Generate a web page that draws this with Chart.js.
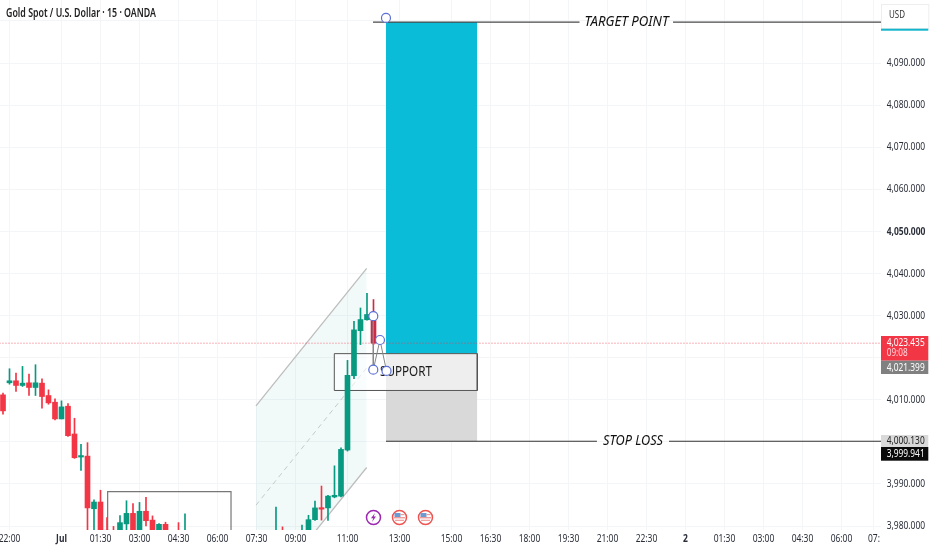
<!DOCTYPE html>
<html><head><meta charset="utf-8">
<style>html,body{margin:0;padding:0;background:#fff}canvas{display:block}</style>
<script src="https://cdn.jsdelivr.net/npm/chart.js@4"></script>
</head><body><canvas id="c" width="932" height="550"></canvas>
<script>
// candle data (x = number of 15-minute candles after 22:00)
const candleIdx = [-1,0,1,2,3,4,5,6,7,8,9,10,11,12,13,14,15,16,17,18,19,20,21,22,23,24,26,27,41,42,45,46,47,48,49,50,51,52,53,54,55,56];
const opens  = [4011.16,4014.02,4014.50,4013.39,4014.02,4012.91,4013.94,4011.0,4009.41,4005.44,4008.46,4001.86,3996.38,3996.6,3984.1,3985.7,3979,3978.5,3978,3980.5,3983.0,3977,3983.5,3981.4,3977,3980.4,3978.5,3977,3976,3978,3977,3977,3981.5,3984.2,3984.3,3986.9,3987.1,3998.05,4015.7,4026.4,4029.0,4029.85];
const closes = [4007.35,4014.50,4013.39,4013.94,4012.91,4014.02,4010.76,4009.25,4005.44,4008.3,4001.46,3996.22,3996.6,3984.3,3985.7,3972,3975,3976,3980.8,3983.0,3976,3983.5,3981.27,3977,3980.4,3976,3977,3978.5,3978,3976,3978,3981.5,3984.3,3984.0,3987.1,3987.3,3998.2,4015.8,4026.6,4029.05,4030.25,4023.435];
const highs  = [4011.56,4017.36,4016.33,4017.92,4016.09,4018.32,4014.98,4012.35,4010.21,4009.73,4009.09,4005.6,3999.4,3999.8,3986.2,3988.5,3982,3979.9,3982.5,3986.0,3985.3,3985.6,3986.8,3982.4,3980.6,3980.9,3980.8,3982.9,3984.5,3979.8,3980.2,3982.55,3985.9,3989.5,3987.3,3994.3,3998.6,4019.35,4028.65,4031.8,4035.25,4033.8];
const lows   = [4006.55,4013.70,4011.96,4013.15,4011.0,4011.0,4008.0,4008.93,4005.2,4005.44,4001.3,3996.06,3993.2,3975,3975,3968,3974,3974,3976,3978,3974,3975,3980.0,3976,3976,3975,3976,3976,3975,3975,3976,3976,3981.35,3981.4,3981.35,3986.7,3986.9,3997.8,4015,4023.1,4028.9,4023.1];

// axes
const timeTickIdx = [0,8,14,20,26,32,38,44,52,60,68,74,80,86,92,98,104,110,116,122,128,133];
const timeLabels  = ["22:00","Jul","01:30","03:00","04:30","06:00","07:30","09:00","11:00","13:00","15:00","16:30","18:00","19:30","21:00","22:30","2","01:30","03:00","04:30","06:00","07:"];
const priceTicks  = [3980,3990,4000,4010,4020,4030,4040,4050,4060,4070,4080,4090,4100];
const hiddenPriceLabels = [4000,4020,4100];

// drawing levels
const lastPrice = 4023.435, entryPrice = 4020.95, targetPrice = 4099.72, stopPrice = 4000.13, supportLow = 4012.2;
const zoneLeft = 57.92, zoneRight = 71.97, supportLeft = 49.97;
const channelX = [37.92,54.95], channelUpper = [4008.55,4041.22], channelMid = [3984.94,4017.56], channelLower = [3961.23,3993.9];
const boxX = [15.1,34.08], boxTop = 3988.18, boxBase = 3970;
const patternX = [55.97,55.97,57.0,58.0], patternY = [4029.84,4017.13,4024.19,4016.85];
const targetLineX = [55.92,87.7,102.08,134.08], stopLineX = [57.92,90.38,101.46,134.08];
const eventIdx = [56,60,64];

// texts
const titleText = "Gold Spot / U.S. Dollar · 15 · OANDA";
const targetText = "TARGET POINT", stopText = "STOP LOSS", supportText = "SUPPORT";
const tagLast = "4,023.435", tagTimer = "09:08", tagEntry = "4,021.399", tagStop = "4,000.130", tagCross = "3,999.941", currency = "USD";

const RED="#F23645", GREEN="#089981", BLUE="#5B6FD6";
const SANS="'Noto Sans',sans-serif";
const xy=(xs,ys)=>xs.map((x,i)=>({x,y:ys[i]}));
const flat=(a,b,y)=>[{x:a,y},{x:b,y}];
const candleColor=candleIdx.map((_,i)=>i===candleIdx.length-1?"#CF2A45":(closes[i]>=opens[i]?GREEN:RED));
const base={type:'line',pointRadius:0,borderWidth:0,tension:0,fill:false};
const rectFill=(l,r,top,bot,color,order,label)=>({...base,label,order,data:flat(l,r,top),backgroundColor:color,borderColor:color,fill:{target:{value:bot},above:color,below:color}});

const datasets=[
 {...base,label:'channelFill',order:100,data:xy(channelX,channelUpper),backgroundColor:'rgba(8,153,129,0.05)',fill:{target:'+1',above:'rgba(8,153,129,0.05)',below:'rgba(8,153,129,0.05)'},borderWidth:1.3,borderColor:'#BDBDBD'},
 {...base,label:'channelLower',order:99,data:xy(channelX,channelLower),borderWidth:1.3,borderColor:'#BDBDBD'},
 {...base,label:'channelMid',order:98,data:xy(channelX,channelMid),borderWidth:1,borderColor:'#C4C9C6',borderDash:[5,4]},
 {...base,label:'box',order:97,data:[{x:boxX[0],y:boxBase},{x:boxX[0],y:boxTop},{x:boxX[1],y:boxTop},{x:boxX[1],y:boxBase}],borderWidth:1.2,borderColor:'#777'},
 rectFill(zoneLeft,zoneRight,targetPrice,entryPrice,'#0BBCD8',90,'targetZone'),
 rectFill(zoneLeft,zoneRight,entryPrice,stopPrice,'#D9D9D9',89,'stopZone'),
 rectFill(supportLeft,zoneRight,entryPrice,supportLow,'rgba(255,255,255,0.55)',88,'supportFill'),
 {...base,label:'supportEdge',order:87,data:[{x:supportLeft,y:entryPrice},{x:zoneRight,y:entryPrice},{x:zoneRight,y:supportLow},{x:supportLeft,y:supportLow},{x:supportLeft,y:entryPrice}],borderWidth:1,borderColor:'#555'},
 {...base,label:'lastLine',order:86,data:flat(-2,135,lastPrice),borderWidth:1,borderColor:'rgba(242,54,69,0.75)',borderDash:[1,2]},
 {type:'bar',label:'wicks',order:60,grouped:false,barThickness:1,data:candleIdx.map((x,i)=>({x,y:[lows[i],highs[i]]})),backgroundColor:candleColor},
 {type:'bar',label:'bodies',order:59,grouped:false,barThickness:5,minBarLength:1.5,data:candleIdx.map((x,i)=>({x,y:[opens[i],closes[i]]})),backgroundColor:candleColor},
 {...base,label:'targetLine',order:50,data:[{x:targetLineX[0],y:targetPrice},{x:targetLineX[1],y:targetPrice},{x:targetLineX[1],y:null},{x:targetLineX[2],y:targetPrice},{x:targetLineX[3],y:targetPrice}],borderWidth:1.2,borderColor:'#4A4A4A'},
 {...base,label:'stopLine',order:49,data:[{x:stopLineX[0],y:stopPrice},{x:stopLineX[1],y:stopPrice},{x:stopLineX[1],y:null},{x:stopLineX[2],y:stopPrice},{x:stopLineX[3],y:stopPrice}],borderWidth:1.2,borderColor:'#333'},
 {...base,label:'pattern',order:40,data:xy(patternX,patternY),borderWidth:1,borderColor:'#888',pointRadius:4.5,pointBackgroundColor:'#fff',pointBorderColor:BLUE,pointBorderWidth:1.2},
 {...base,label:'targetHandle',order:39,data:[{x:zoneLeft,y:4100.7}],pointRadius:4.5,pointBackgroundColor:'rgba(255,255,255,0.9)',pointBorderColor:BLUE,pointBorderWidth:1.2,clip:false}
];

function label(ctx,t,x,y,font,color,maxW){ctx.font=font;ctx.fillStyle=color;ctx.textAlign='center';ctx.textBaseline='middle';ctx.fillText(t,x,y,maxW);}
function leftLabel(ctx,t,x,y,font,color,maxW){ctx.font=font;ctx.fillStyle=color;ctx.textAlign='left';ctx.textBaseline='middle';ctx.fillText(t,x,y,maxW);}

const overlay={id:'overlay',
 afterDatasetDraw(chart,args){
  if(chart.data.datasets[args.index].label!=='supportFill')return;
  const ctx=chart.ctx,s=chart.scales;ctx.save();
  label(ctx,supportText,406,s.y.getPixelForValue((entryPrice+supportLow)/2)+0.5,"13.5px 'Noto Sans',sans-serif",'#1A1A1A',52);
  ctx.restore();
 },
 afterDatasetsDraw(chart){
  const ctx=chart.ctx,s=chart.scales;ctx.save();
  const tf="11px "+SANS;
  // title
  leftLabel(ctx,titleText,6,13.5,"600 12px 'Noto Sans',sans-serif",'#222',150);
  // annotation labels
  label(ctx,targetText,626.5,s.y.getPixelForValue(targetPrice),"italic 13.5px 'Noto Sans',sans-serif",'#111',84);
  label(ctx,stopText,633,s.y.getPixelForValue(stopPrice),"italic 13.5px 'Noto Sans',sans-serif",'#111',60);
  // events
  eventIdx.forEach((idx,i)=>{
    const x=s.x.getPixelForValue(idx),y=517.5;
    ctx.beginPath();ctx.arc(x,y,7,0,Math.PI*2);ctx.fillStyle='#fff';ctx.fill();
    ctx.lineWidth=1.5;ctx.strokeStyle=i===0?'#9C27B0':'#EF5350';ctx.stroke();
    if(i===0){
      ctx.beginPath();ctx.moveTo(x+1.5,y-4.5);ctx.lineTo(x-2.5,y+0.8);ctx.lineTo(x-0.2,y+0.8);ctx.lineTo(x-1.5,y+4.5);ctx.lineTo(x+2.5,y-1);ctx.lineTo(x+0.2,y-1);ctx.closePath();ctx.fillStyle='#9C27B0';ctx.fill();
    }else{
      ctx.fillStyle='#EF9A9A';ctx.fillRect(x-5.5,y-0.5,11,1.4);ctx.fillRect(x-4.5,y+2.2,9,1.2);
      ctx.fillStyle='#6C9BD2';ctx.fillRect(x-5,y-4.5,6,4);
      ctx.fillStyle='#EF9A9A';ctx.fillRect(x+1,y-3.5,4,1.2);
    }
  });
  // price tags
  const X=881,W=47.3,T=886.7,TW=38;
  ctx.fillStyle=RED;ctx.fillRect(X,336,W,24.7);
  leftLabel(ctx,tagLast,T,342.5,tf,'#fff',TW);
  leftLabel(ctx,tagTimer,T,353,tf,'#FFD4D8',21);
  ctx.fillStyle='#808080';ctx.fillRect(X,360.7,W,13.3);
  leftLabel(ctx,tagEntry,T,367.5,tf,'#fff',TW);
  ctx.fillStyle='#D9D9D9';ctx.fillRect(X,435,W,12);
  leftLabel(ctx,tagStop,T,441,tf,'#222',TW);
  ctx.fillStyle='#0A0A0A';ctx.fillRect(X,447,W,13.7);
  leftLabel(ctx,tagCross,T,454,tf,'#fff',TW);
  // currency box
  ctx.strokeStyle='#EEEEEE';ctx.lineWidth=1;ctx.strokeRect(X+0.5,4.5,W,24);
  ctx.fillStyle='#12B5CB';ctx.fillRect(X,28.7,W,2);
  leftLabel(ctx,currency,889,15,tf,'#333',16);
  ctx.restore();
 }};

// axis labels in the reference are condensed: squeeze any text without its own width
const canvasEl=document.getElementById('c');
const rawCtx=canvasEl.getContext('2d');
const rawFillText=rawCtx.fillText.bind(rawCtx);
rawCtx.fillText=function(t,x,y,m){rawFillText(t,x,y,m===undefined?rawCtx.measureText(t).width*0.77:m);};

const zeroMargins=a=>{a.paddingLeft=a.paddingRight=a.paddingTop=a.paddingBottom=0;a._margins={left:0,right:0,top:0,bottom:0};};
new Chart(canvasEl,{
 type:'bar',
 data:{datasets},
 plugins:[overlay],
 options:{
  responsive:false,animation:false,devicePixelRatio:1,
  layout:{padding:0,autoPadding:false},
  plugins:{legend:{display:false},tooltip:{enabled:false},title:{display:false}},
  scales:{
   x:{type:'linear',offset:false,min:-1.4615,max:134.08,
      grid:{color:'#F4F5F7',offset:false,drawTicks:false},border:{display:false},
      afterBuildTicks(a){a.ticks=timeTickIdx.map(v=>({value:v}));},
      afterFit(a){a.height=20;zeroMargins(a);},
      ticks:{autoSkip:false,maxRotation:0,minRotation:0,padding:2,color:'#2A2E39',
        font(c){const b=c.tick&&(c.tick.value===8||c.tick.value===104);return {family:SANS,size:11,weight:b?'bold':'normal'};},
        callback(v,i){return timeLabels[i];}}},
   y:{type:'linear',position:'right',min:3979.05,max:4104.97,
      grid:{color:'#F4F5F7',drawTicks:false},border:{display:false},
      afterBuildTicks(a){a.ticks=priceTicks.map(v=>({value:v}));},
      afterFit(a){a.width=51;zeroMargins(a);},
      ticks:{autoSkip:false,padding:5.7,color:'#2A2E39',
        font(c){return {family:SANS,size:11,weight:c.tick&&c.tick.value===4050?'bold':'normal'};},
        callback(v){return hiddenPriceLabels.includes(v)?'':v.toLocaleString('en-US',{minimumFractionDigits:3,maximumFractionDigits:3});}}}
  }
 }
});
</script></body></html>
